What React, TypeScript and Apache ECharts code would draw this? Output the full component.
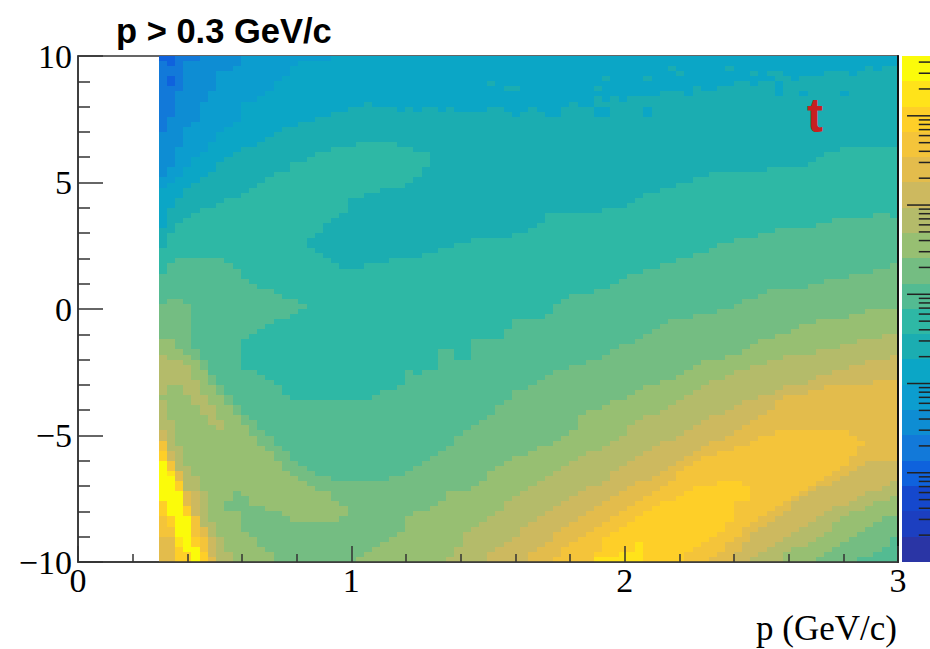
import React, { useEffect, useRef } from "react";
import * as echarts from "echarts";

const titleText = "p > 0.3 GeV/c";
const xTitle = "p (GeV/c)";
const panelTag = "t";

// colour levels from the palette bar, index 0 = top of the bar (yellow)
const levelColors = [
  "#FBFB0A", "#FFE31A", "#FECF28", "#F4C43A", "#E3BC4C", "#CDB95F", "#B4BB6A", "#97BF72", "#74BD82", "#53BB92",
  "#2EB8A5", "#1BADB1", "#0BA6C6", "#0C9DCF", "#0E8DD3", "#1279D9", "#0F62DD", "#1548CD", "#1C3FC0", "#2A35A5",
];
// band edges of the palette bar, from the top level to the bottom level
const levelEdges = [468000, 243700, 126900, 66060, 34400, 17910, 9325, 4855, 2528, 1316, 685, 357, 186, 96.6, 50.3, 26.2, 13.6, 7.09, 3.69, 1.92, 1];
const barMajorTicks = [10, 100, 1000, 10000, 100000];
const barMinorTicks = [
  2, 3, 4, 5, 6, 7, 8, 9,
  20, 30, 40, 50, 60, 70, 80, 90,
  200, 300, 400, 500, 600, 700, 800, 900,
  2000, 3000, 4000, 5000, 6000, 7000, 8000, 9000,
  20000, 30000, 40000, 50000, 60000, 70000, 80000, 90000,
  200000, 300000, 400000,
];

// one list per p bin (left to right); pairs of level, last y bin (bins counted from y = 10 down, 100 bins)
const columnRuns: number[][] = [
  [16,1,15,15,14,24,13,26,12,34,11,38,10,43,9,49,8,56,7,59,6,67,7,68,6,74,5,76,3,78,2,80,0,88,2,91,3,95,4,100],
  [16,2,15,4,16,6,15,12,14,22,13,25,12,30,11,35,10,41,9,48,8,56,7,60,6,65,7,72,6,78,5,80,3,82,1,83,0,91,2,93,3,95,4,100],
  [15,7,14,18,13,24,12,28,11,33,10,40,9,48,8,58,7,60,6,65,7,77,6,82,4,84,2,86,0,95,1,97,2,100],
  [15,1,14,14,13,22,12,26,11,32,10,40,9,49,8,59,7,61,6,67,7,81,6,86,4,89,2,91,0,98,2,100],
  [15,1,14,13,13,20,12,25,11,31,10,40,9,58,8,60,7,64,6,69,7,83,6,86,5,91,3,95,2,97,0,100],
  [14,9,13,19,12,24,11,30,10,40,9,60,8,62,7,67,6,71,7,86,6,93,4,95,3,98,2,100],
  [14,7,13,17,12,23,11,30,10,40,9,63,8,65,7,69,6,73,7,92,6,95,5,99,4,100],
  [14,3,13,15,12,21,11,29,10,40,9,65,8,67,7,72,6,74,7,95,6,100],
  [14,3,13,14,12,20,11,28,10,41,9,67,8,69,7,88,8,90,7,98,6,100],
  [14,2,13,13,12,19,11,28,10,42,9,69,8,71,7,86,8,90,7,100],
  [13,9,12,18,11,27,10,44,9,56,10,62,9,71,8,73,7,87,8,94,7,100],
  [13,9,12,18,11,26,10,45,9,55,10,62,9,72,8,75,7,89,8,95,7,100],
  [13,8,12,17,11,25,10,46,9,54,10,63,9,74,8,77,7,89,8,97,7,100],
  [13,7,12,16,11,24,10,46,9,53,10,64,9,75,8,78,7,90,8,98,7,100],
  [13,5,12,15,11,23,10,47,9,52,10,65,9,77,8,80,7,90,8,100],
  [13,4,12,14,11,23,10,48,9,52,10,67,9,78,8,82,7,91,8,100],
  [13,2,12,14,11,21,10,48,9,51,10,68,9,80,8,83,7,92,8,100],
  [13,1,12,13,11,21,10,49,9,50,10,68,9,81,8,84,7,92,8,100],
  [13,1,12,13,11,20,10,36,11,38,10,68,9,82,8,85,7,92,8,100],
  [13,1,12,12,11,19,10,35,11,39,10,68,9,83,8,86,7,92,8,100],
  [13,1,12,12,11,19,10,33,11,40,10,68,9,83,8,86,7,92,8,100],
  [12,11,11,18,10,32,11,41,10,68,9,84,8,88,7,92,8,100],
  [12,11,11,18,10,31,11,42,10,68,9,84,8,89,7,91,8,100],
  [12,10,11,18,10,28,11,42,10,68,9,84,8,100],
  [12,10,11,17,10,28,11,42,10,68,9,84,8,99,7,100],
  [12,9,11,17,10,27,11,41,10,68,9,84,8,98,7,100],
  [12,10,11,17,10,27,11,41,10,67,9,84,8,97,7,100],
  [12,10,11,17,10,26,11,41,10,66,9,84,8,96,7,100],
  [12,10,11,17,10,26,11,40,10,66,9,83,8,95,7,100],
  [12,11,11,18,10,26,11,40,10,65,9,83,8,94,7,100],
  [12,10,11,18,10,25,11,40,10,62,9,82,8,91,7,100],
  [12,11,11,19,10,24,11,40,10,63,9,81,8,90,7,100],
  [12,10,11,19,10,22,11,39,10,62,9,80,8,90,7,100],
  [12,10,11,39,10,62,9,79,8,89,7,100],
  [12,11,11,38,10,58,9,78,8,88,7,100],
  [12,10,11,38,10,58,9,77,8,86,7,99,6,100],
  [12,11,11,37,10,60,9,75,8,86,7,97,6,100],
  [12,11,11,37,10,60,9,74,8,86,7,94,6,100],
  [12,11,11,36,10,56,9,73,8,85,7,93,6,100],
  [12,11,11,36,10,56,9,72,8,84,7,92,6,100],
  [12,5,11,6,12,10,11,36,10,56,9,71,8,82,7,91,6,98,5,100],
  [12,10,11,36,10,56,9,69,8,81,7,90,6,97,5,100],
  [12,6,11,7,12,11,11,36,10,54,9,68,8,80,7,88,6,96,5,100],
  [12,6,11,7,12,12,11,35,10,52,9,66,8,79,7,87,6,95,5,100],
  [12,11,11,35,10,52,9,66,8,79,7,86,6,93,5,100],
  [12,10,11,34,10,52,9,65,8,78,7,85,6,92,5,98,4,100],
  [12,11,11,33,10,52,9,64,8,77,7,84,6,91,5,97,4,100],
  [12,12,11,31,10,51,9,63,8,77,7,83,6,90,5,96,4,100],
  [12,12,11,31,10,49,9,62,8,76,7,82,6,89,5,94,4,99,3,100],
  [12,10,11,31,10,48,9,62,8,75,7,81,6,88,5,93,4,97,3,100],
  [12,9,11,31,10,47,9,61,8,74,7,80,6,87,5,92,4,96,3,100],
  [12,10,11,31,10,47,9,61,8,71,7,79,6,86,5,91,4,95,3,100],
  [12,10,11,31,10,47,9,60,8,70,7,78,6,85,5,90,4,94,3,100],
  [12,6,11,7,12,8,11,10,12,12,11,31,10,46,9,60,8,70,7,78,6,85,5,89,4,93,3,98,2,99,1,100],
  [12,4,11,5,12,9,11,10,12,12,11,30,10,46,9,59,8,69,7,77,6,84,5,88,4,92,3,95,2,99,1,100],
  [12,8,11,30,10,45,9,58,8,68,7,76,6,82,5,87,4,91,3,94,2,99,1,100],
  [12,9,11,30,10,44,9,57,8,68,7,75,6,81,5,86,4,90,3,93,2,98,1,100],
  [12,8,11,29,10,43,9,57,8,67,7,73,6,80,5,85,4,89,3,92,2,98,1,100],
  [12,8,11,28,10,43,9,56,8,66,7,72,6,79,5,84,4,88,3,91,2,96,1,100],
  [12,4,11,5,12,8,11,10,12,12,11,27,10,42,9,55,8,65,7,71,6,78,5,84,4,87,3,90,2,100],
  [12,8,11,27,10,42,9,54,8,65,7,71,6,77,5,83,4,86,3,89,2,100],
  [12,7,11,26,10,41,9,53,8,64,7,70,6,76,5,82,4,85,3,88,2,100],
  [12,2,11,3,12,7,11,26,10,41,9,52,8,64,7,69,6,76,5,81,4,84,3,88,2,100],
  [12,3,11,4,12,7,11,25,10,40,9,52,8,63,7,68,6,75,5,80,4,82,3,87,2,100],
  [12,8,11,25,10,40,9,52,8,62,7,67,6,74,5,79,4,81,3,86,2,98,3,100],
  [12,6,11,24,10,39,9,51,8,61,7,66,6,73,5,78,4,80,3,85,2,97,3,100],
  [12,7,11,24,10,39,9,51,8,60,7,65,6,72,5,77,4,79,3,85,2,96,3,100],
  [12,7,11,23,10,38,9,51,8,60,7,64,6,71,5,76,4,79,3,85,2,95,3,99,4,100],
  [12,6,11,23,10,37,9,50,8,60,7,64,6,71,5,76,4,78,3,84,2,94,3,98,4,100],
  [12,2,11,3,12,6,11,23,10,37,9,50,8,59,7,63,6,70,5,75,4,78,3,84,2,92,3,96,4,100],
  [12,5,11,23,10,36,9,49,8,59,7,62,6,69,5,74,4,77,3,84,2,88,3,95,4,98,5,100],
  [12,5,11,23,10,36,9,48,8,58,7,62,6,68,5,73,4,77,3,85,2,88,3,93,4,96,5,100],
  [12,3,11,4,12,6,11,23,10,36,9,48,8,57,7,61,6,68,5,72,4,76,3,92,4,94,5,99,6,100],
  [12,5,11,23,10,35,9,47,8,56,7,61,6,67,5,71,4,75,3,91,4,93,5,98,6,100],
  [12,3,11,4,12,5,11,22,10,35,9,46,8,56,7,60,6,67,5,70,4,75,3,90,4,92,5,97,6,100],
  [12,3,11,5,12,8,11,22,10,34,9,46,8,55,7,60,6,66,5,68,4,74,3,89,4,91,5,96,6,100],
  [12,4,11,22,10,34,9,46,8,55,7,59,6,65,5,67,4,74,3,88,4,90,5,95,6,98,7,100],
  [12,5,11,22,10,34,9,46,8,54,7,59,6,65,5,67,4,74,3,87,4,88,5,94,6,97,7,100],
  [12,4,11,7,12,8,11,22,10,34,9,46,8,53,7,59,6,65,5,67,4,74,3,86,4,87,5,93,6,97,7,100],
  [12,4,11,21,10,34,9,45,8,53,7,59,6,64,5,66,4,74,3,85,4,86,5,92,6,96,7,100],
  [12,4,11,20,10,33,9,45,8,52,7,58,6,63,5,66,4,74,3,84,4,85,5,91,6,95,7,99,8,100],
  [12,3,11,19,10,33,9,44,8,52,7,58,6,63,5,65,4,74,3,83,4,85,5,90,6,94,7,98,8,100],
  [12,3,11,19,10,32,9,44,8,52,7,58,6,62,5,65,4,74,3,82,4,84,5,89,6,92,7,97,8,100],
  [12,3,11,7,12,8,11,18,10,32,9,44,8,52,7,57,6,62,5,65,4,74,3,81,4,83,5,89,6,91,7,96,8,100],
  [12,4,11,18,10,32,9,43,8,51,7,57,6,61,5,65,4,75,3,79,4,82,5,88,6,90,7,95,8,100],
  [12,3,11,18,10,32,9,43,8,51,7,56,6,61,5,65,4,76,3,77,4,81,5,87,6,90,7,94,8,99,9,100],
  [12,2,11,18,10,32,9,43,8,50,7,56,6,60,5,65,4,80,5,86,6,89,7,93,8,99,9,100],
  [12,3,11,18,10,31,9,42,8,50,7,56,6,60,5,64,4,80,5,86,6,88,7,92,8,98,9,100],
  [12,2,11,18,10,31,9,42,8,50,7,55,6,60,5,64,4,80,5,85,6,88,7,91,8,97,9,100],
  [12,2,11,18,10,32,9,41,8,50,7,55,6,59,5,64,4,80,5,84,6,87,7,91,8,95,9,100],
];

const SERIF = "'Liberation Serif', serif";
const SANS = "'Liberation Sans', sans-serif";
const AXIS = "#333333";

function buildOption() {
  const binX0 = 0.295;
  const binW = (3 - binX0) / columnRuns.length;
  const cells: number[][] = [];
  columnRuns.forEach((runs, c) => {
    let from = 0;
    for (let i = 0; i < runs.length; i += 2) {
      const to = runs[i + 1];
      cells.push([binX0 + c * binW, binX0 + (c + 1) * binW, 10 - from * 0.2, 10 - to * 0.2, runs[i]]);
      from = to;
    }
  });

  const bands = levelColors.map((_, i) => [0, 1, levelEdges[i], levelEdges[i + 1], i]);
  const barTicks = [
    ...barMajorTicks.map((v) => [0.18, 1, v]),
    ...barMinorTicks.map((v) => [0.6, 1, v]),
  ];

  const rectItem = (_: any, api: any) => {
    const a = api.coord([api.value(0), api.value(2)]);
    const b = api.coord([api.value(1), api.value(3)]);
    const x = Math.round(a[0]);
    const y = Math.round(a[1]);
    return {
      type: "rect",
      shape: { x, y, width: Math.round(b[0]) - x, height: Math.round(b[1]) - y },
      style: { fill: levelColors[api.value(4)] },
    };
  };

  return {
    animation: false,
    backgroundColor: "#ffffff",
    title: {
      text: titleText,
      left: 111,
      top: 8,
      textStyle: { fontFamily: SANS, fontWeight: "bold", fontSize: 34.5, color: "#000000", lineHeight: 36 },
    },
    grid: [
      { left: 78, top: 56, width: 820, height: 506, show: true, borderColor: AXIS, borderWidth: 1.5, backgroundColor: "#ffffff", containLabel: false },
      { left: 902, top: 56, width: 28, height: 506 },
    ],
    xAxis: [
      {
        type: "value",
        gridIndex: 0,
        min: 0,
        max: 3,
        interval: 1,
        z: 10,
        splitLine: { show: false },
        axisLine: { onZero: false, lineStyle: { color: AXIS, width: 1.5 } },
        axisTick: { inside: true, length: 16, lineStyle: { color: AXIS, width: 1.5 } },
        minorTick: { show: true, splitNumber: 5, length: 8, lineStyle: { color: AXIS, width: 1.5 } },
        axisLabel: { fontFamily: SERIF, fontSize: 34, color: "#000000", margin: 1, hideOverlap: false, showMinLabel: true, showMaxLabel: true },
      },
      { type: "value", gridIndex: 1, min: 0, max: 1, show: false },
    ],
    yAxis: [
      {
        type: "value",
        gridIndex: 0,
        min: -10,
        max: 10,
        interval: 5,
        z: 10,
        splitLine: { show: false },
        axisLine: { onZero: false, lineStyle: { color: AXIS, width: 1.5 } },
        axisTick: { inside: true, length: 25, lineStyle: { color: AXIS, width: 1.5 } },
        minorTick: { show: true, splitNumber: 5, length: 12, lineStyle: { color: AXIS, width: 1.5 } },
        axisLabel: {
          fontFamily: SERIF,
          fontSize: 34,
          color: "#000000",
          margin: 6,
          showMinLabel: true,
          showMaxLabel: true,
          formatter: (v: number) => String(v).replace("-", "\u2212"),
        },
      },
      {
        type: "value",
        gridIndex: 0,
        position: "right",
        min: -10,
        max: 10,
        interval: 5,
        z: 10,
        splitLine: { show: false },
        axisLine: { show: true, onZero: false, lineStyle: { color: "#111111", width: 2 } },
        axisTick: { show: false },
        axisLabel: { show: false },
      },
      { type: "log", gridIndex: 1, logBase: 10, min: 1, max: 468000, show: false },
    ],
    series: [
      {
        type: "custom",
        name: "map",
        xAxisIndex: 0,
        yAxisIndex: 0,
        coordinateSystem: "cartesian2d",
        silent: true,
        clip: true,
        z: 2,
        encode: { x: [0, 1], y: [2, 3] },
        renderItem: rectItem,
        data: cells,
      },
      {
        type: "custom",
        name: "palette",
        xAxisIndex: 1,
        yAxisIndex: 2,
        coordinateSystem: "cartesian2d",
        silent: true,
        z: 2,
        encode: { x: [0, 1], y: [2, 3] },
        renderItem: rectItem,
        data: bands,
      },
      {
        type: "custom",
        name: "paletteTicks",
        xAxisIndex: 1,
        yAxisIndex: 2,
        coordinateSystem: "cartesian2d",
        silent: true,
        z: 3,
        encode: { x: [0, 1], y: 2 },
        renderItem: (_: any, api: any) => {
          const a = api.coord([api.value(0), api.value(2)]);
          const b = api.coord([api.value(1), api.value(2)]);
          return {
            type: "line",
            shape: { x1: a[0], y1: a[1], x2: b[0], y2: b[1] },
            style: { stroke: "#222222", lineWidth: 1.5 },
          };
        },
        data: barTicks,
      },
    ],
    graphic: [
      {
        type: "text",
        x: 897,
        y: 628,
        z: 20,
        style: { text: xTitle, fontFamily: SERIF, fontSize: 35, fill: "#000000", align: "right", verticalAlign: "middle" },
      },
      {
        type: "text",
        x: 815,
        y: 115,
        z: 20,
        style: { text: panelTag, fontFamily: SANS, fontWeight: "bold", fontSize: 48, fill: "#C82020", align: "center", verticalAlign: "middle" },
      },
    ],
  };
}

export default function App() {
  const ref = useRef<HTMLDivElement>(null);
  useEffect(() => {
    document.body.style.margin = "0";
    const chart = echarts.init(ref.current!, undefined, { renderer: "svg" });
    chart.setOption(buildOption() as any);
    return () => chart.dispose();
  }, []);
  return <div ref={ref} style={{ width: 930, height: 649, overflow: "hidden" }} />;
}
